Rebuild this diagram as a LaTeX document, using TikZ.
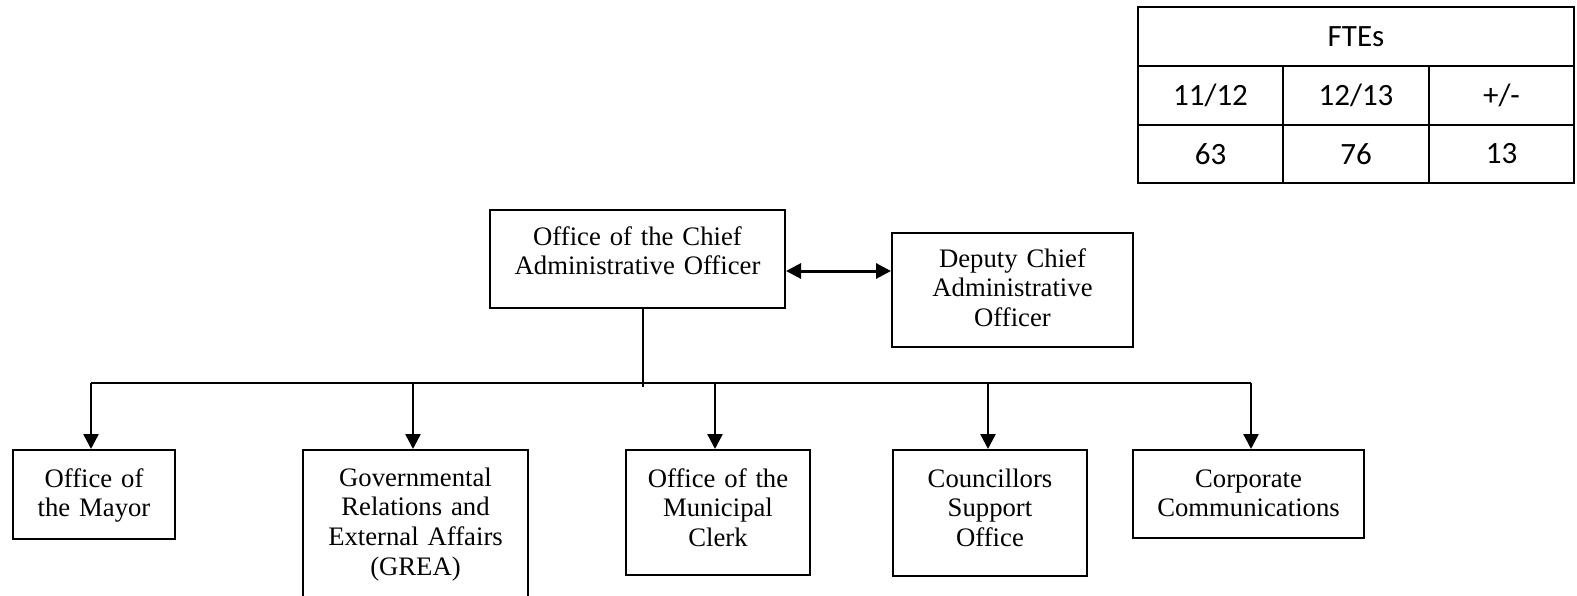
\documentclass[tikz,border=0pt]{standalone}
\usepackage{fontspec}
\setmainfont{Liberation Serif}
\newfontfamily\tablefont{Carlito}
\usetikzlibrary{arrows.meta}
\begin{document}
\begin{tikzpicture}[x=1pt,y=-1pt,
  box/.style={draw, line width=2pt, inner sep=0pt, rectangle},
  boxtext/.style={font=\fontsize{26.7}{29.8}\selectfont, align=center, inner sep=0pt, anchor=base},
  cell/.style={draw, line width=2.8pt, inner sep=0pt, rectangle, font=\tablefont\fontsize{31}{36}\selectfont},
  link/.style={line width=2.5pt},
  drop/.style={link, -{Triangle[length=15pt,width=15pt]}},
  twoway/.style={line width=3pt, {Triangle[length=15pt,width=15pt]}-{Triangle[length=15pt,width=15pt]}}
]
\useasboundingbox (0,0) rectangle (1577,596);
\clip (0,0) rectangle (1577,596);

% FTE table
\node[cell, minimum width=436pt, minimum height=59pt] (fte) at (1356,36.5) {FTEs};
\node[cell, minimum width=145pt, minimum height=59pt] (ya) at (1210.5,95.5) {11/12};
\node[cell, minimum width=146pt, minimum height=59pt] (yb) at (1356,95.5) {12/13};
\node[cell, minimum width=145pt, minimum height=59pt] (yc) at (1501.5,95.5) {+/-};
\node[cell, minimum width=145pt, minimum height=58pt] (va) at (1210.5,154) {63};
\node[cell, minimum width=146pt, minimum height=58pt] (vb) at (1356,154) {76};
\node[cell, minimum width=145pt, minimum height=58pt] (vc) at (1501.5,154) {13};

% top level
\node[box, minimum width=295pt, minimum height=98pt] (cao) at (637.5,259) {};
\node[boxtext, text width=285pt] (caot) at ([yshift=-36pt]cao.north) {Office of the Chief\\Administrative Officer};
\node[box, minimum width=241pt, minimum height=114pt] (dep) at (1012.5,290) {};
\node[boxtext, text width=231pt] (dept) at ([yshift=-35pt]dep.north) {Deputy Chief\\Administrative\\Officer};

% second level
\node[box, minimum width=162pt, minimum height=89pt] (mayor) at (94,494.5) {};
\node[boxtext, text width=152pt] (mayort) at ([yshift=-38pt]mayor.north) {Office of\\the Mayor};
\node[box, minimum width=225pt, minimum height=154pt] (grea) at (415.5,527) {};
\node[boxtext, text width=215pt] (great) at ([yshift=-37pt]grea.north) {Governmental\\Relations and\\External Affairs\\(GREA)};
\node[box, minimum width=184pt, minimum height=125pt] (clerk) at (718,512.5) {};
\node[boxtext, text width=174pt] (clerkt) at ([yshift=-38pt]clerk.north) {Office of the\\Municipal\\Clerk};
\node[box, minimum width=194pt, minimum height=126pt] (council) at (990,513) {};
\node[boxtext, text width=184pt] (councilt) at ([yshift=-38pt]council.north) {Councillors\\Support\\Office};
\node[box, minimum width=231pt, minimum height=88pt] (corp) at (1248.5,494) {};
\node[boxtext, text width=221pt] (corpt) at ([yshift=-38pt]corp.north) {Corporate\\Communications};

% connectors
\coordinate (mid) at (0,271);
\draw[twoway] (cao.east |- mid) -- (dep.west |- mid);

\coordinate (stem) at (643,387);
\coordinate (d1) at (91,383);
\coordinate (d2) at (413,383);
\coordinate (d3) at (715,383);
\coordinate (d4) at (988,383);
\coordinate (d5) at (1251,383);
\draw[link] (cao.south -| stem) -- (stem);
\draw[link] (d1) -- (d5);
\draw[drop] (d1) -- (d1 |- mayor.north);
\draw[drop] (d2) -- (d2 |- grea.north);
\draw[drop] (d3) -- (d3 |- clerk.north);
\draw[drop] (d4) -- (d4 |- council.north);
\draw[drop] (d5) -- (d5 |- corp.north);
\end{tikzpicture}
\end{document}
